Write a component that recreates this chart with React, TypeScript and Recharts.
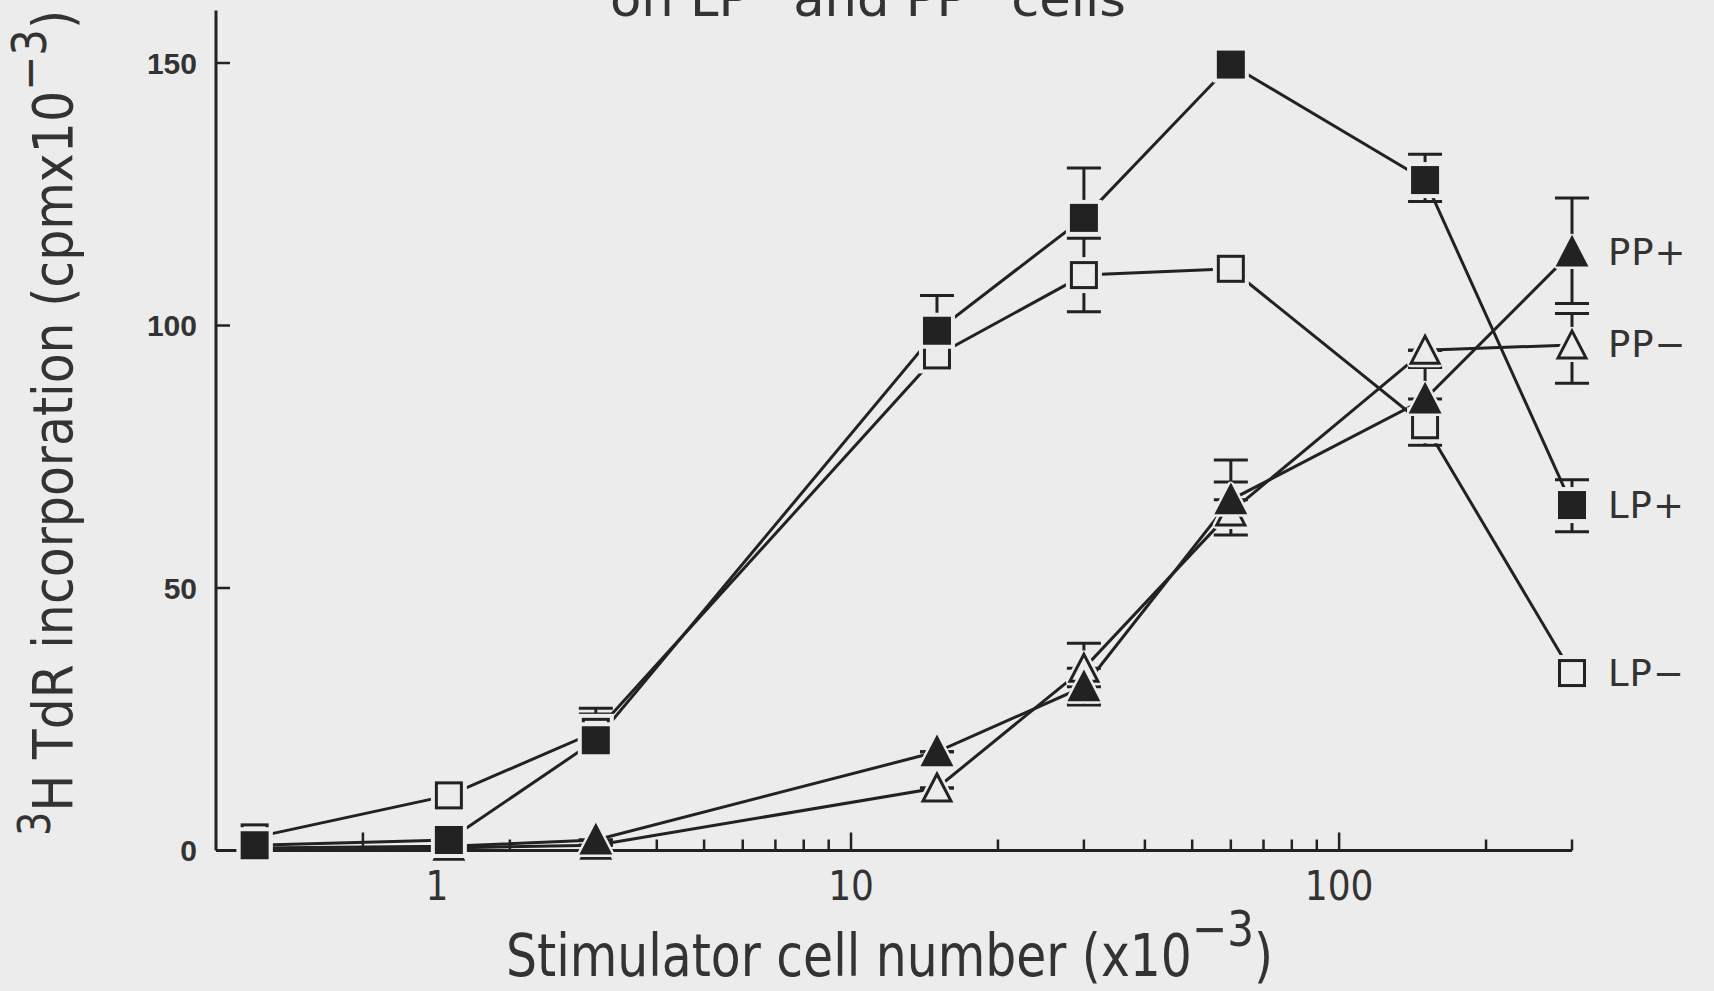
import React from "react";
import { LineChart, Line, XAxis, YAxis, ErrorBar, LabelList } from "recharts";

const W = 1714;
const H = 991;
const paper = "#ececec";
const ink = "#222222";
const textInk = "#333333";
const narrow = "'Liberation Sans Narrow', 'DejaVu Sans Condensed', sans-serif";

// stimulator cell number (x10^-3)
const cellNumbers = [0.6, 1.5, 3, 15, 30, 60, 150, 300];

// 3H TdR incorporation (cpm x10^-3)
const lpPlus = [1, 2, 21, 99, 120.5, 149.7, 127.7, 65.8];
const lpMinus = [2.5, 10.5, 22.6, 94.3, 109.6, 110.8, 81, 33.8];
const ppPlus = [0.5, 0.8, 2, 18.8, 31.2, 66.8, 86, 114];
const ppMinus = [0.3, 0.5, 1, 11.9, 34.7, 64.5, 95.3, 96.3];

// [below, above]
const lpPlusErr = [[0, 0], [0, 0], [0, 5], [0, 6.7], [0, 9.5], [0, 0], [4.1, 4.9], [5.1, 4.8]];
const lpMinusErr = [[0, 0], [0, 0], [0, 4.5], [0, 0], [7, 7], [0, 0], [3.8, 0], [0, 0]];
const ppPlusErr = [[0, 0], [0, 0], [0, 0], [0, 0], [3.5, 0], [0, 7.6], [0, 6], [9.8, 10.3]];
const ppMinusErr = [[0, 0], [0, 0], [0, 0], [0, 0], [0, 4.8], [4.4, 5.7], [0, 0], [7.3, 6]];

const seriesNames = { lpPlus: "LP+", lpMinus: "LP\u2212", ppPlus: "PP+", ppMinus: "PP\u2212" };

const xTicks = [1, 2, 3, 4, 5, 6, 7, 8, 9, 10, 20, 30, 40, 50, 60, 70, 80, 90, 100, 200, 300];
const xTickLabels: Record<number, string> = { 1: "1", 10: "10", 100: "100" };
const yTicks = [0, 50, 100, 150];

const last = cellNumbers.length - 1;
const data = cellNumbers.map((x, i) => ({
  x,
  lpPlus: lpPlus[i],
  lpMinus: lpMinus[i],
  ppPlus: ppPlus[i],
  ppMinus: ppMinus[i],
  lpPlusErr: lpPlusErr[i],
  lpMinusErr: lpMinusErr[i],
  ppPlusErr: ppPlusErr[i],
  ppMinusErr: ppMinusErr[i],
  lpPlusTag: i === last ? seriesNames.lpPlus : undefined,
  lpMinusTag: i === last ? seriesNames.lpMinus : undefined,
  ppPlusTag: i === last ? seriesNames.ppPlus : undefined,
  ppMinusTag: i === last ? seriesNames.ppMinus : undefined,
}));

const HALO = 4;

function mark(kind: "square" | "triangle", filled: boolean) {
  return (p: any) => {
    const { cx, cy, index } = p;
    if (cx == null || cy == null) return <g key={index} />;
    if (kind === "square") {
      const s = 28;
      return (
        <g key={index}>
          <rect x={cx - s / 2 - HALO} y={cy - s / 2 - HALO} width={s + 2 * HALO} height={s + 2 * HALO} fill={paper} />
          <rect
            x={cx - s / 2 + 1.5}
            y={cy - s / 2 + 1.5}
            width={s - 3}
            height={s - 3}
            fill={filled ? ink : paper}
            stroke={ink}
            strokeWidth={3}
          />
        </g>
      );
    }
    const w = 28;
    const h = 26;
    const pts = `${cx},${cy - h / 2 - 1} ${cx + w / 2},${cy + h / 2} ${cx - w / 2},${cy + h / 2}`;
    return (
      <g key={index}>
        <polygon points={pts} fill={paper} stroke={paper} strokeWidth={2 * HALO} strokeLinejoin="round" />
        <polygon points={pts} fill={filled ? ink : paper} stroke={ink} strokeWidth={3} />
      </g>
    );
  };
}

function endLabel(props: any) {
  const { x, y, value } = props;
  if (!value) return null;
  return (
    <text
      x={x + 36}
      y={y}
      dominantBaseline="central"
      fontFamily="'DejaVu Sans', sans-serif"
      fontSize={37}
      letterSpacing={1}
      fill={textInk}
    >
      {value}
    </text>
  );
}

function XTick(props: any) {
  const { x, y, payload } = props;
  const v = payload.value;
  const major = v === 1 || v === 10 || v === 100;
  const label = xTickLabels[v];
  return (
    <g>
      <line x1={x} x2={x} y1={y} y2={y - (major ? 18 : 11)} stroke={ink} strokeWidth={2.5} />
      {label && (
        <text x={x + (v === 1 ? 74 : 0)} y={y + 49} textAnchor="middle" fontFamily={narrow} fontSize={40} fill={textInk}>
          {label}
        </text>
      )}
    </g>
  );
}

function YTick(props: any) {
  const { x, y, payload } = props;
  return (
    <g>
      <line x1={x} x2={x + 14} y1={y} y2={y} stroke={ink} strokeWidth={2.5} />
      <text
        x={x - 19}
        y={y}
        textAnchor="end"
        dominantBaseline="central"
        fontFamily="'Liberation Sans', Arial, sans-serif"
        fontWeight="bold"
        fontSize={30}
        fill={textInk}
      >
        {payload.value}
      </text>
    </g>
  );
}

export default function App() {
  return (
    <div style={{ position: "relative", width: W, height: H, background: paper, overflow: "hidden" }}>
      <style>{`body{margin:0;background:${paper};}`}</style>
      <LineChart width={W} height={H} data={data} margin={{ top: 10.5, right: 142, bottom: 80.5, left: 116 }}>
        <XAxis
          dataKey="x"
          type="number"
          scale="log"
          domain={[0.5, 300]}
          ticks={xTicks}
          interval={0}
          height={60}
          tickSize={0}
          tickMargin={0}
          tickLine={false}
          axisLine={{ stroke: ink, strokeWidth: 3 }}
          tick={<XTick />}
        />
        <YAxis
          type="number"
          domain={[0, 160]}
          ticks={yTicks}
          interval={0}
          width={100}
          tickSize={0}
          tickMargin={0}
          tickLine={false}
          axisLine={{ stroke: ink, strokeWidth: 3 }}
          tick={<YTick />}
        />
        <Line dataKey="lpMinus" type="linear" stroke={ink} strokeWidth={3} dot={mark("square", false)} activeDot={false} isAnimationActive={false}>
          <ErrorBar dataKey="lpMinusErr" direction="y" width={17} stroke={ink} strokeWidth={3} />
          <LabelList dataKey="lpMinusTag" content={endLabel} />
        </Line>
        <Line dataKey="ppMinus" type="linear" stroke={ink} strokeWidth={3} dot={mark("triangle", false)} activeDot={false} isAnimationActive={false}>
          <ErrorBar dataKey="ppMinusErr" direction="y" width={17} stroke={ink} strokeWidth={3} />
          <LabelList dataKey="ppMinusTag" content={endLabel} />
        </Line>
        <Line dataKey="ppPlus" type="linear" stroke={ink} strokeWidth={3} dot={mark("triangle", true)} activeDot={false} isAnimationActive={false}>
          <ErrorBar dataKey="ppPlusErr" direction="y" width={17} stroke={ink} strokeWidth={3} />
          <LabelList dataKey="ppPlusTag" content={endLabel} />
        </Line>
        <Line dataKey="lpPlus" type="linear" stroke={ink} strokeWidth={3} dot={mark("square", true)} activeDot={false} isAnimationActive={false}>
          <ErrorBar dataKey="lpPlusErr" direction="y" width={17} stroke={ink} strokeWidth={3} />
          <LabelList dataKey="lpPlusTag" content={endLabel} />
        </Line>
      </LineChart>
      <svg width={W} height={H} style={{ position: "absolute", left: 0, top: 0, pointerEvents: "none" }}>
        <text x={610} y={16} fontFamily={narrow} fontSize={50} fill={textInk} textLength={516} lengthAdjust="spacingAndGlyphs">
          on LP<tspan dy={-20} fontSize={32}>+</tspan>
          <tspan dy={20}> and PP</tspan>
          <tspan dy={-20} fontSize={32}>+</tspan>
          <tspan dy={20}> cells</tspan>
        </text>
        <text x={506} y={976} fontFamily={narrow} fontSize={58} fill={textInk} textLength={767} lengthAdjust="spacingAndGlyphs">
          Stimulator cell number (x10<tspan dy={-30} fontSize={50}>{"\u22123"}</tspan>
          <tspan dy={30}>)</tspan>
        </text>
        <text
          transform="translate(72 836) rotate(-90)"
          x={0}
          y={0}
          fontFamily={narrow}
          fontSize={56}
          fill={textInk}
          textLength={826}
          lengthAdjust="spacingAndGlyphs"
        >
          <tspan dy={-22} fontSize={44}>3</tspan>
          <tspan dy={22}>H TdR incorporation (cpmx10</tspan>
          <tspan dy={-26} fontSize={48}>{"\u22123"}</tspan>
          <tspan dy={26}>)</tspan>
        </text>
      </svg>
    </div>
  );
}
